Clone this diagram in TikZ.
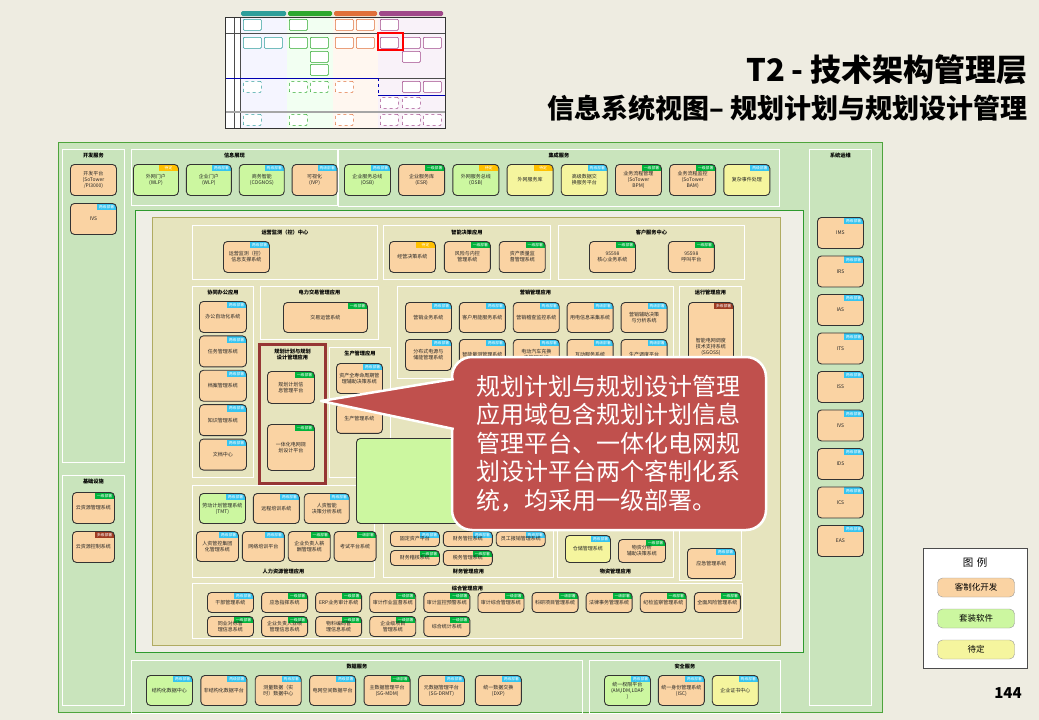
\documentclass[tikz,border=0pt]{standalone}
\usepackage{fontspec}
\setmainfont{Noto Sans CJK SC}
\XeTeXlinebreaklocale "zh"
\XeTeXlinebreakskip=0pt
\usetikzlibrary{positioning,calc}
\definecolor{pagebg}{HTML}{EEECE1}
\definecolor{panel}{HTML}{C9E4BC}
\definecolor{panelline}{HTML}{4EA43C}
\definecolor{appbg}{HTML}{EFEEE6}
\definecolor{appline}{HTML}{2E9A2E}
\definecolor{olive}{HTML}{E6E4BE}
\definecolor{oliveline}{HTML}{B0AB62}
\definecolor{cust}{HTML}{FAD3A3}
\definecolor{pkgfill}{HTML}{CCF7A0}
\definecolor{tbdfill}{HTML}{F5F59E}
\definecolor{tagblue}{HTML}{35C4F0}
\definecolor{taggreen}{HTML}{00B33C}
\definecolor{taggold}{HTML}{FFC000}
\definecolor{tagred}{HTML}{9E3B22}
\definecolor{planframe}{HTML}{963634}
\definecolor{calloutred}{HTML}{C0504D}
\definecolor{thteal}{HTML}{2E9E9A}
\definecolor{thgreen}{HTML}{2EA82E}
\definecolor{thorange}{HTML}{E0703A}
\definecolor{thpurple}{HTML}{A0488A}

\begin{document}
\begin{tikzpicture}[x=1pt,y=-1pt,node distance=7pt,
 sys/.style={draw=black!80,line width=0.9pt,rounded corners=4pt,fill=cust,minimum width=46pt,minimum height=31pt,text width=41pt,align=center,inner sep=1pt,text=black!85,font=\fontsize{5}{6}\selectfont,anchor=north west},
 pkg/.style={sys,fill=pkgfill},
 tbd/.style={sys,fill=tbdfill},
 tagnode/.style={anchor=north east,draw=none,sharp corners,text width={},path picture={},minimum width=19pt,minimum height=6.5pt,inner sep=0pt,text=white,font=\fontsize{3.8}{4}\selectfont},
 two/.style={path picture={\node[tagnode,fill=tagblue] at (path picture bounding box.north east) {两级部署};}},
 one/.style={path picture={\node[tagnode,fill=taggreen] at (path picture bounding box.north east) {一级部署};}},
 hold/.style={path picture={\node[tagnode,fill=taggold] at (path picture bounding box.north east) {待定};}},
 multi/.style={path picture={\node[tagnode,fill=tagred] at (path picture bounding box.north east) {多级部署};}},
 grp/.style={draw=white,line width=0.8pt,anchor=north west,inner sep=0pt},
 grptitle/.style={font=\fontsize{5.2}{6.2}\selectfont\bfseries,inner sep=0pt,align=center},
 ic/.style={draw=#1,fill=white,line width=0.7pt,rounded corners=1pt,minimum width=18pt,minimum height=11pt,inner sep=0pt,anchor=north west}]

\fill[pagebg] (0,0) rectangle (1039,720);

% outer panel
\node[anchor=north west,draw=panelline,line width=1pt,fill=panel,minimum width=824pt,minimum height=570pt,inner sep=0pt] (outer) at (58,142) {};

% service groups
\node[grp,minimum width=62pt,minimum height=313pt] (gdev) at (62,149) {};
\node[grptitle,below=4pt of gdev.north] (tdev) {开发服务};
\node[grp,minimum width=62pt,minimum height=230pt] (ginfra) at (62,475) {};
\node[grptitle,below=4pt of ginfra.north] (tinfra) {基础设施};
\node[grp,minimum width=206pt,minimum height=56pt] (gview) at (131,149) {};
\node[grptitle,below=4pt of gview.north] (tview) {信息展现};
\node[grp,minimum width=441pt,minimum height=57pt] (gint) at (338,149) {};
\node[grptitle,below=4pt of gint.north] (tint) {集成服务};
\node[grp,minimum width=62pt,minimum height=556pt] (gops) at (809,149) {};
\node[grptitle,below=4pt of gops.north] (tops) {系统运维};
\node[grp,minimum width=451pt,minimum height=53pt] (gdata) at (131,660) {};
\node[grptitle,below=4pt of gdata.north] (tdata) {数据服务};
\node[grp,minimum width=191pt,minimum height=53pt] (gsec) at (589,660) {};
\node[grptitle,below=4pt of gsec.north] (tsec) {安全服务};

% application area
\node[anchor=north west,draw=appline,line width=1.2pt,fill=appbg,minimum width=668pt,minimum height=442pt,inner sep=0pt] (apparea) at (135,210) {};
\node[anchor=north west,draw=oliveline,line width=1.2pt,fill=olive,minimum width=628pt,minimum height=428pt,inner sep=0pt] (appcore) at (152,217) {};

\node[grp,minimum width=185pt,minimum height=54pt] (gmon) at (192,225) {};
\node[grptitle,below=5pt of gmon.north] (tmon) {运营监测（控）中心};
\node[grp,minimum width=167pt,minimum height=54pt] (gdec) at (383,225) {};
\node[grptitle,below=5pt of gdec.north] (tdec) {智能决策应用};
\node[grp,minimum width=186pt,minimum height=54pt] (gcust) at (558,225) {};
\node[grptitle,below=5pt of gcust.north] (tcust) {客户服务中心};
\node[grp,minimum width=61pt,minimum height=191pt] (goff) at (192,286) {};
\node[grptitle,below=4pt of goff.north] (toff) {协同办公应用};
\node[grp,minimum width=118pt,minimum height=53pt] (gtrade) at (260,286) {};
\node[grptitle,below=4pt of gtrade.north] (ttrade) {电力交易管理应用};
\node[grp,minimum width=61pt,minimum height=130pt] (gprod) at (329,347) {};
\node[grptitle,below=4pt of gprod.north] (tprod) {生产管理应用};
\node[grp,minimum width=276pt,minimum height=92pt] (gmkt) at (397,286) {};
\node[grptitle,below=4pt of gmkt.north] (tmkt) {营销管理应用};
\node[grp,minimum width=62pt,minimum height=294pt] (grun) at (679,286) {};
\node[grptitle,below=4pt of grun.north] (trun) {运行管理应用};
\node[grp,minimum width=182pt,minimum height=92pt] (ghr) at (192,485) {};
\node[grptitle,above=4pt of ghr.south] (thr) {人力资源管理应用};
\node[grp,minimum width=170pt,minimum height=92pt] (gfin) at (383,485) {};
\node[grptitle,above=4pt of gfin.south] (tfin) {财务管理应用};
\node[grp,minimum width=116pt,minimum height=92pt] (gmat) at (557,485) {};
\node[grptitle,above=4pt of gmat.south] (tmat) {物资管理应用};
\node[grp,minimum width=550pt,minimum height=55pt] (gcomp) at (192,583) {};
\node[grptitle,below=3pt of gcomp.north] (tcomp) {综合管理应用};
\node[grp,draw=planframe,line width=3pt,minimum width=66pt,minimum height=139pt] (gplan) at (258,343) {};
\node[grptitle,below=6pt of gplan.north] (tplan) {规划计划与规划\\设计管理应用};

% development / infrastructure
\node[sys] (dev1) at (70,164) {开发平台\\(SoTower\\/PI3000)};
\node[sys,two] (dev2) at (70,203) {IVS};
\node[sys,one,minimum width=42pt,text width=38pt] (inf1) at (72,492) {云资源管理系统};
\node[sys,multi,minimum width=42pt,text width=38pt] (inf2) at (72,531) {云资源控制系统};

% information view
\node[pkg,hold,minimum width=45pt] (view1) at (133,164) {外网门户\\(WLP)};
\node[pkg,two,minimum width=45pt,right=of view1] (view2) {企业门户\\(WLP)};
\node[pkg,two,minimum width=45pt,right=of view2] (view3) {商务智能\\(COGNOS)};
\node[sys,two,minimum width=45pt,right=of view3] (view4) {可视化\\(IVP)};

% integration
\node[pkg,two] (int1) at (344,164) {企业服务总线\\(OSB)};
\node[sys,one,right=7.3pt of int1] (int2) {企业服务库\\(ESR)};
\node[pkg,hold,right=7.3pt of int2] (int3) {外网服务总线\\(OSB)};
\node[tbd,hold,right=7.3pt of int3] (int4) {外网服务库};
\node[tbd,two,right=7.3pt of int4] (int5) {高级数据交换服务平台};
\node[sys,one,right=7.3pt of int5] (int6) {业务流程管理\\(SoTower\\BPM)};
\node[sys,one,right=7.3pt of int6] (int7) {业务流程监控\\(SoTower\\BAM)};
\node[tbd,two,right=7.3pt of int7] (int8) {复杂事件处理};

% operations
\node[sys,two] (ops1) at (817,217) {IMS};
\node[sys,two,below=6.6pt of ops1] (ops2) {IRS};
\node[sys,two,below=6.6pt of ops2] (ops3) {IAS};
\node[sys,two,below=6.6pt of ops3] (ops4) {ITS};
\node[sys,two,below=6.6pt of ops4] (ops5) {ISS};
\node[sys,two,below=6.6pt of ops5] (ops6) {IVS};
\node[sys,two,below=6.6pt of ops6] (ops7) {IDS};
\node[sys,two,below=6.6pt of ops7] (ops8) {ICS};
\node[sys,two,below=6.6pt of ops8] (ops9) {EAS};

% monitoring, decision, customer
\node[sys,two] (mon1) at (223,241) {运营监测（控）信息支撑系统};
\node[sys,hold] (dec1) at (389,241) {经营决策系统};
\node[sys,one,right=8pt of dec1] (dec2) {风险与内控管理系统};
\node[sys,one,right=8pt of dec2] (dec3) {资产质量监督管理系统};
\node[sys,one] (cust1) at (589,241) {95598\\核心业务系统};
\node[sys,one,right=32pt of cust1] (cust2) {95598\\呼叫平台};

% office
\node[sys,two,minimum width=47pt] (off1) at (199,301) {办公自动化系统};
\node[sys,two,minimum width=47pt,below=2.5pt of off1] (off2) {任务管理系统};
\node[sys,two,minimum width=47pt,below=2.5pt of off2] (off3) {档案管理系统};
\node[sys,two,minimum width=47pt,below=2.5pt of off3] (off4) {知识管理系统};
\node[sys,two,minimum width=47pt,below=2.5pt of off4] (off5) {文档中心};

% trade, planning, production
\node[sys,one,minimum width=84pt,minimum height=30pt] (trade1) at (283,302) {交易运营系统};
\node[sys,one,minimum width=47pt,minimum height=32pt] (plan1) at (267,371) {规划计划信息管理平台};
\node[sys,one,minimum width=47pt,minimum height=46pt] (plan2) at (267,424) {一体化电网规划设计平台};
\node[sys,two,minimum height=30pt] (prod1) at (336,363) {资产全寿命周期管理辅助决策系统};
\node[sys,two,minimum height=30pt,below=9pt of prod1] (prod2) {生产管理系统};

% marketing
\node[sys,two,minimum height=30pt] (mkt1) at (405,302) {营销业务系统};
\node[sys,two,minimum height=30pt,right=of mkt1] (mkt2) {客户用能服务系统};
\node[sys,two,minimum height=30pt,right=of mkt2] (mkt3) {营销稽查监控系统};
\node[sys,two,minimum height=30pt,right=of mkt3] (mkt4) {用电信息采集系统};
\node[sys,two,minimum height=30pt,right=of mkt4] (mkt5) {营销辅助决策与分析系统};
\node[sys,two] (mkt6) at (405,339) {分布式电源与储能管理系统};
\node[sys,two,right=of mkt6] (mkt7) {智能量测管理系统};
\node[sys,two,right=of mkt7] (mkt8) {电动汽车充换电管理系统};
\node[sys,two,right=of mkt8] (mkt9) {互动服务系统};
\node[sys,two,right=of mkt9] (mkt10) {生产调度平台};

% operation management
\node[sys,multi,minimum width=45pt,minimum height=88pt] (run1) at (688,302) {智能电网调度技术支持系统\\(SGOSS)};
\node[sys,two,minimum width=48pt,minimum height=30pt] (run2) at (687,548) {应急管理系统};

% human resources
\node[pkg,two,minimum height=30pt] (hr1) at (199,493) {劳动计划管理系统\\(TMT)};
\node[sys,two,minimum height=30pt,right=of hr1] (hr2) {远程培训系统};
\node[sys,two,minimum width=45pt,minimum height=30pt,right=4pt of hr2] (hr3) {人资智能\\决策分析系统};
\node[sys,two,minimum width=42pt,minimum height=30pt,text width=38pt] (hr4) at (196,531) {人资管控集团化管理系统};
\node[sys,two,minimum width=42pt,minimum height=30pt,text width=38pt,right=3pt of hr4] (hr5) {网络培训平台};
\node[sys,one,minimum width=42pt,minimum height=30pt,text width=38pt,right=3pt of hr5] (hr6) {企业负责人薪酬管理系统};
\node[sys,one,minimum width=42pt,minimum height=30pt,text width=38pt,right=3pt of hr6] (hr7) {考试平台系统};

% finance
\node[sys,two,minimum width=49pt,minimum height=15pt,text width=45pt] (fin1) at (390,531) {固定资产平台};
\node[sys,two,minimum width=49pt,minimum height=15pt,text width=45pt,right=3pt of fin1] (fin2) {财务管控系统};
\node[sys,two,minimum width=49pt,minimum height=15pt,text width=45pt,right=3pt of fin2] (fin3) {员工报销管理系统};
\node[sys,one,minimum width=49pt,minimum height=15pt,text width=45pt] (fin4) at (390,550) {财务稽核系统};
\node[sys,one,minimum width=49pt,minimum height=15pt,text width=45pt,right=3pt of fin4] (fin5) {税务管理系统};

% materials
\node[tbd,two,minimum width=45pt,minimum height=27pt] (mat1) at (565,535) {仓储管理系统};
\node[sys,one,minimum width=47pt,minimum height=23pt] (mat2) at (618,539) {物资分析\\辅助决策系统};

% comprehensive management
\node[sys,two,minimum height=20pt] (comp1) at (207,592) {干部管理系统};
\node[sys,one,minimum height=20pt,right=7.2pt of comp1] (comp2) {应急指挥系统};
\node[sys,one,minimum height=20pt,right=7.2pt of comp2] (comp3) {ERP业务审计系统};
\node[sys,one,minimum height=20pt,right=7.2pt of comp3] (comp4) {审计作业监督系统};
\node[sys,one,minimum height=20pt,right=7.2pt of comp4] (comp5) {审计监控预警系统};
\node[sys,one,minimum height=20pt,right=7.2pt of comp5] (comp6) {审计综合管理系统};
\node[sys,one,minimum height=20pt,right=7.2pt of comp6] (comp7) {科研项目管理系统};
\node[sys,one,minimum height=20pt,right=7.2pt of comp7] (comp8) {法律事务管理系统};
\node[sys,one,minimum height=20pt,right=7.2pt of comp8] (comp9) {纪检监察管理系统};
\node[sys,one,minimum height=20pt,right=7.2pt of comp9] (comp10) {全面风险管理系统};
\node[sys,one,minimum height=20pt] (comp11) at (207,616) {同业对标管理信息系统};
\node[sys,one,minimum height=20pt,right=7.2pt of comp11] (comp12) {企业负责人业绩管理信息系统};
\node[sys,one,minimum height=20pt,right=7.2pt of comp12] (comp13) {物料编码管理信息系统};
\node[sys,one,minimum height=20pt,right=7.2pt of comp13] (comp14) {企业级项目管理系统};
\node[sys,one,minimum height=20pt,right=7.2pt of comp14] (comp15) {综合统计系统};

% data services
\node[pkg,two,minimum height=30pt] (data1) at (146,675) {结构化数据中心};
\node[sys,two,minimum height=30pt,right=7.5pt of data1] (data2) {非结构化数据平台};
\node[sys,two,minimum height=30pt,right=7.5pt of data2] (data3) {测量数据（实时）数据中心};
\node[sys,two,minimum height=30pt,right=7.5pt of data3] (data4) {电网空间数据平台};
\node[sys,one,minimum height=30pt,right=7.5pt of data4] (data5) {主数据管理平台\\(SG-MDM)};
\node[sys,two,minimum height=30pt,right=7.5pt of data5] (data6) {元数据管理平台\\(SG-DRMT)};
\node[sys,two,minimum height=30pt,right=10pt of data6] (data7) {统一数据交换\\(DXP)};

% security services
\node[pkg,two,minimum height=30pt] (sec1) at (604,675) {统一权限平台\\(AM,IDM,LDAP\\)};
\node[sys,two,minimum height=30pt,right=of sec1] (sec2) {统一身份管理系统\\(ISC)};
\node[tbd,two,minimum height=30pt,right=of sec2] (sec3) {企业证书中心};

% highlighted area
\node[pkg,minimum width=204pt,minimum height=85pt,text width={}] (focus) at (356,438) {};

% callout
\node[draw=white,line width=2.5pt,fill=calloutred,rounded corners=20pt,minimum width=314pt,minimum height=173pt,text width=266pt,align=left,text=white,font=\fontsize{24}{28.5}\selectfont] (note) at (609,443.5) {规划计划与规划设计管理\\应用域包含规划计划信息\\管理平台、一体化电网规\\划设计平台两个客制化系\\统，均采用一级部署。};
\coordinate (tip) at (321,401);
\filldraw[fill=calloutred,draw=white,line width=2.5pt,line join=round] ($(note.west)+(3,-64.5)$) -- (tip) -- ($(note.west)+(3,-14.5)$);

% legend
\node[anchor=north west,draw=black!70,fill=white,minimum width=104pt,minimum height=120pt,inner sep=0pt] (legend) at (923,548) {};
\node[font=\fontsize{10.5}{12}\selectfont,below=6pt of legend.north] (legtitle) {图\,\,例};
\node[draw=black!40,fill=cust,rounded corners=5pt,minimum width=77pt,minimum height=19pt,font=\fontsize{8.5}{10}\selectfont] (leg1) at (976,587.5) {客制化开发};
\node[draw=black!40,fill=pkgfill,rounded corners=5pt,minimum width=77pt,minimum height=19pt,font=\fontsize{8.5}{10}\selectfont] (leg2) at (976,618.5) {套装软件};
\node[draw=black!40,fill=tbdfill,rounded corners=5pt,minimum width=77pt,minimum height=19pt,font=\fontsize{8.5}{10}\selectfont] (leg3) at (976,649.5) {待定};

% titles
\node[anchor=east,font=\fontsize{31}{34}\selectfont\bfseries,inner sep=0pt] (title) at (1028,70) {T2\hspace{7pt}-\hspace{7pt}技术架构管理层};
\node[anchor=east,font=\fontsize{27}{30}\selectfont\bfseries,inner sep=0pt] (subtitle) at (1028,108) {信息系统视图– 规划计划与规划设计管理};
\node[font=\fontsize{15}{17}\selectfont\bfseries,inner sep=0pt] (pageno) at (1008,693) {144};

% thumbnail
\fill[white] (225,17) rectangle (445,128);
\fill[blue!4] (241,17) rectangle (287,128);
\fill[green!5] (287,17) rectangle (333,128);
\fill[orange!6] (333,17) rectangle (378,128);
\fill[violet!5] (378,17) rectangle (445,128);
\fill[thteal,rounded corners=1.5pt] (241,16) rectangle (286,11);
\fill[thgreen,rounded corners=1.5pt] (288,16) rectangle (332,11);
\fill[thorange,rounded corners=1.5pt] (334,16) rectangle (377,11);
\fill[thpurple,rounded corners=1.5pt] (379,16) rectangle (443,11);
\draw[black!70,line width=0.6pt] (225,33) -- (445,33) (234,17) -- (234,128) (240,17) -- (240,128) (378,78) -- (445,78);
\draw[blue!70!black,line width=0.9pt] (225,78) -- (378,78) (378,95) -- (445,95);
\draw[blue!70!black,line width=0.8pt,dashed] (378,78) -- (378,95);
\draw[black!35,line width=2pt] (225,112) -- (445,112);
\foreach \px/\py/\c [count=\i] in {243/19/thteal,289/19/thgreen,335/19/thorange,356/19/thorange,380/19/thpurple,
  243/37/thteal,264/37/thteal,289/37/thgreen,310/37/thgreen,335/37/thorange,356/37/thorange,380/37/thpurple,402/37/thpurple,423/37/thpurple,
  310/51/thgreen,402/51/thpurple,310/64/thgreen,402/81/thpurple,423/81/thpurple}
  \node[ic=\c] (icon\i) at (\px,\py) {};
\foreach \px/\py/\c [count=\i] in {243/81/thteal,289/81/thgreen,310/81/thgreen,335/81/thorange,380/97/thpurple,402/97/thpurple,
  243/114/thteal,289/114/thgreen,335/114/thorange,380/114/thpurple,402/114/thpurple,423/114/thpurple}
  \node[ic=\c,dashed] (dicon\i) at (\px,\py) {};
\draw[red,line width=2pt] (378,33) rectangle (403,50);
\draw[black!80,line width=0.8pt] (225,17) rectangle (445,128);
\end{tikzpicture}
\end{document}
